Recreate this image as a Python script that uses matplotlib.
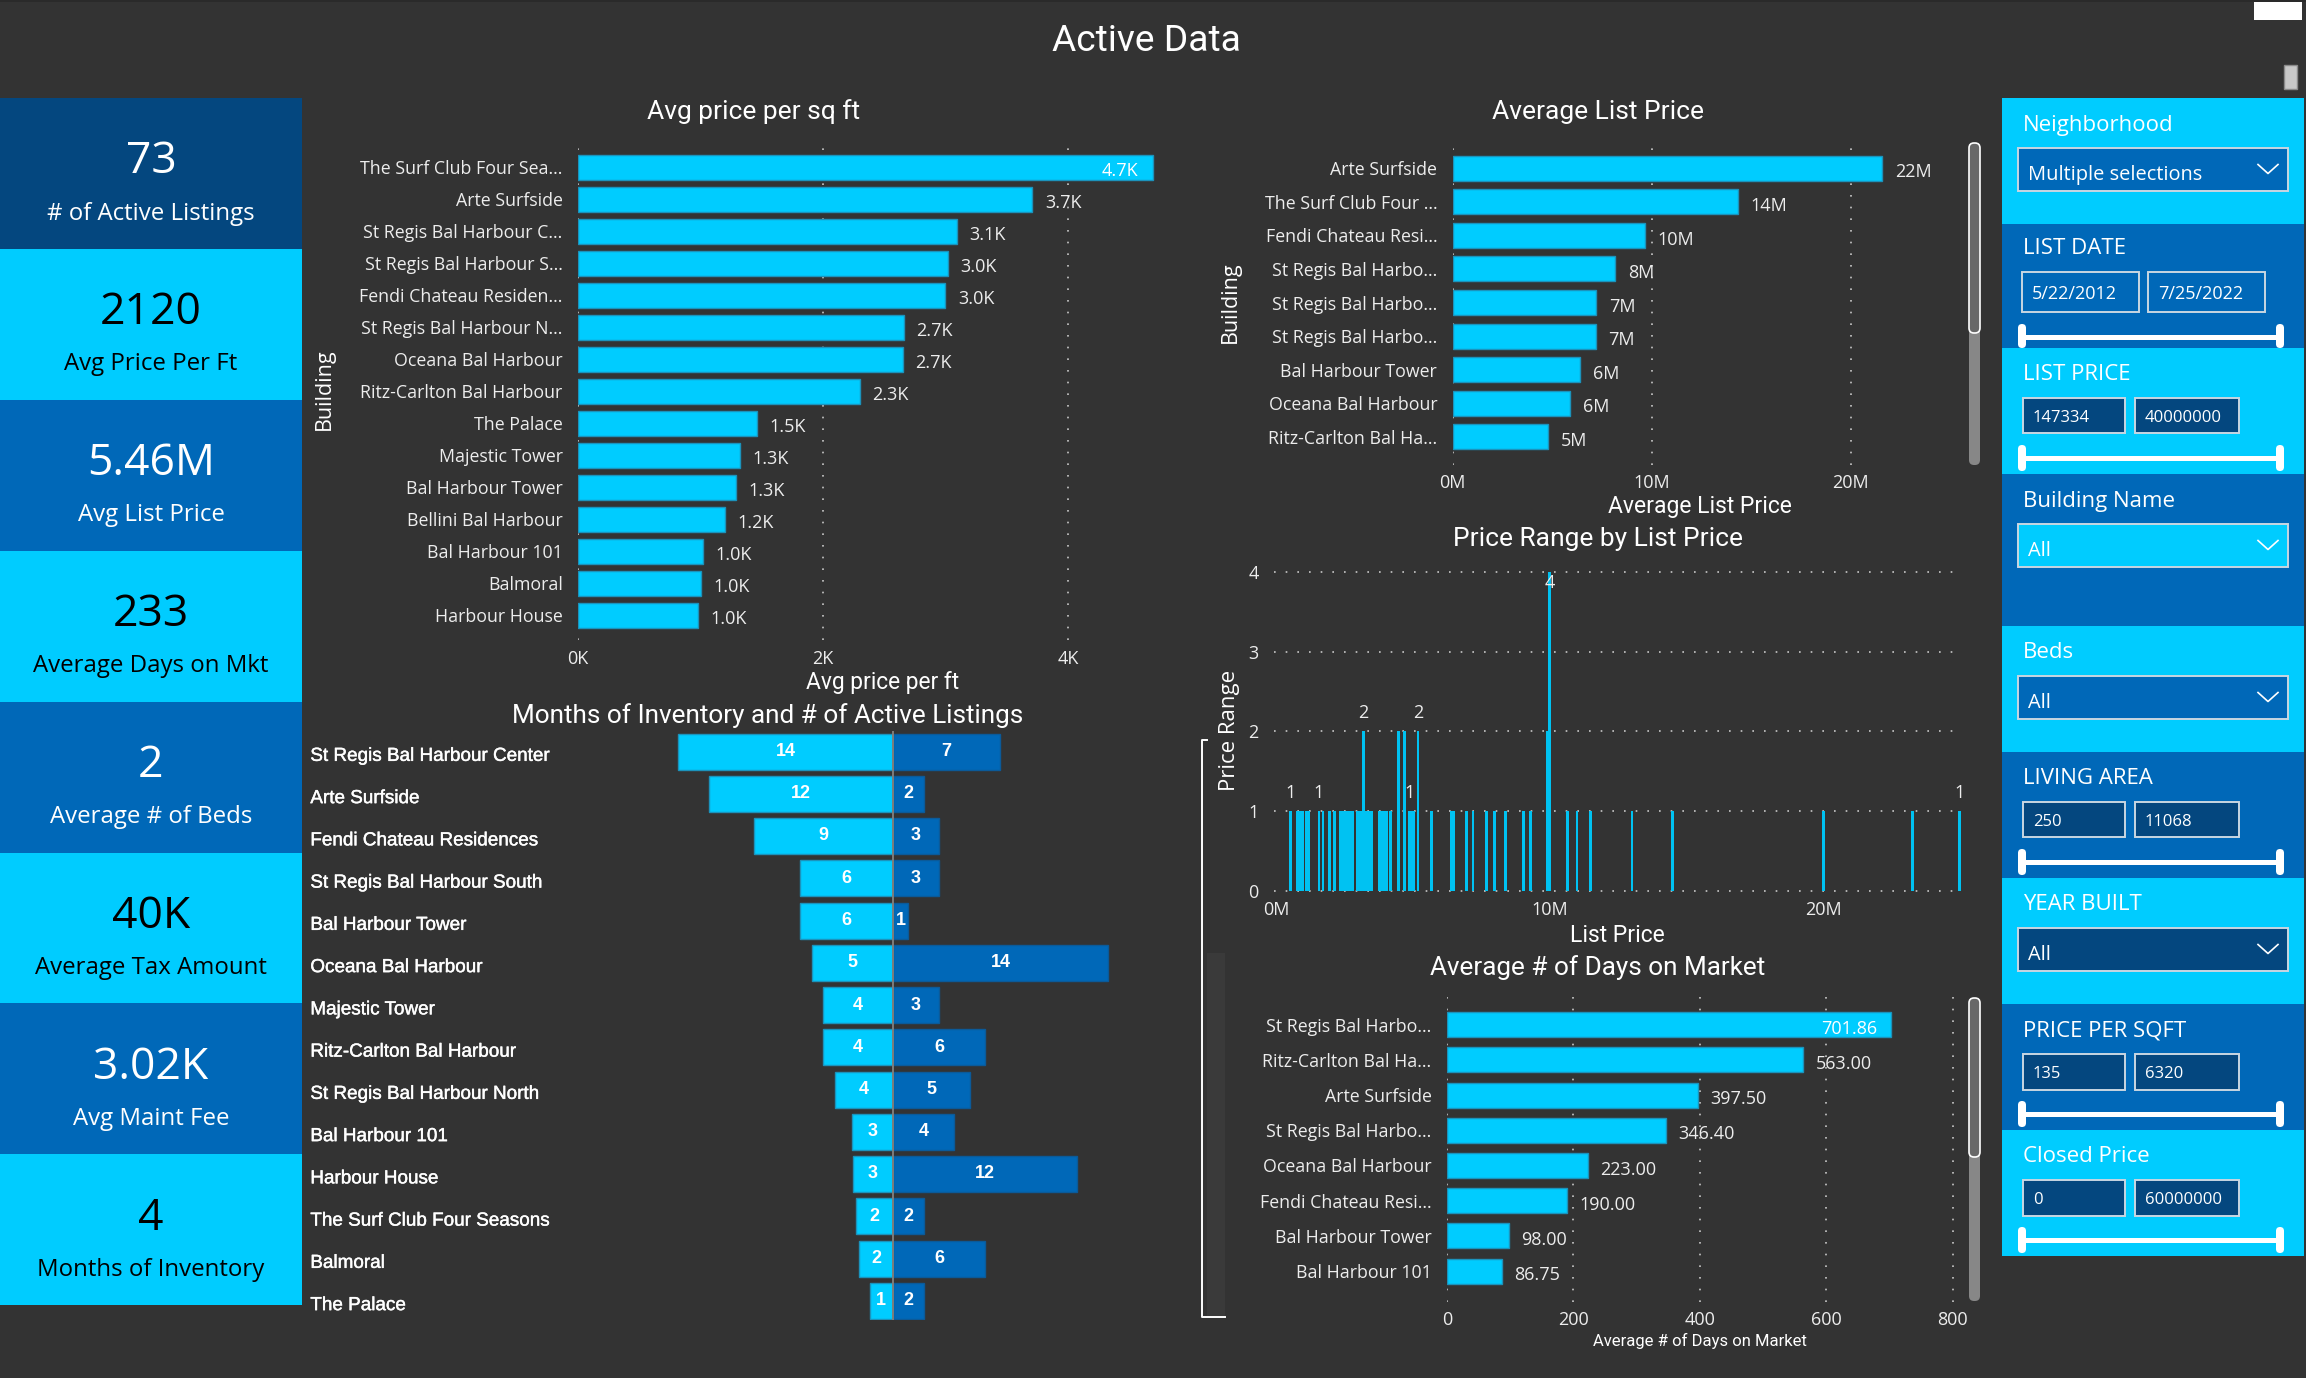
import matplotlib
matplotlib.use('Agg')
import matplotlib.pyplot as plt
import matplotlib.patheffects as pe
from matplotlib.patches import Rectangle, FancyBboxPatch

W, H = 2306, 1378
BG = '#333333'
CYAN = '#00CCFF'
BLUE = '#0068B8'
NAVY = '#04477F'
EDGE = '#1B93BC'
GRID = '#C8C8C8'
UI_FONT = 'Open Sans'
TITLE_FONT = 'Roboto'

# kpi cards
kpi_values = ['73', '2120', '5.46M', '233', '2', '40K', '3.02K', '4']
kpi_labels = ['# of Active Listings', 'Avg Price Per Ft', 'Avg List Price', 'Average Days on Mkt',
              'Average # of Beds', 'Average Tax Amount', 'Avg Maint Fee', 'Months of Inventory']

# avg price per sq ft
ppsf_names = ['The Surf Club Four Sea...', 'Arte Surfside', 'St Regis Bal Harbour C...', 'St Regis Bal Harbour S...',
              'Fendi Chateau Residen...', 'St Regis Bal Harbour N...', 'Oceana Bal Harbour', 'Ritz-Carlton Bal Harbour',
              'The Palace', 'Majestic Tower', 'Bal Harbour Tower', 'Bellini Bal Harbour', 'Bal Harbour 101',
              'Balmoral', 'Harbour House']
ppsf_values = [4.69, 3.71, 3.09, 3.02, 3.00, 2.66, 2.65, 2.30, 1.46, 1.32, 1.29, 1.20, 1.02, 1.00, 0.98]
ppsf_labels = ['4.7K', '3.7K', '3.1K', '3.0K', '3.0K', '2.7K', '2.7K', '2.3K', '1.5K', '1.3K', '1.3K', '1.2K',
               '1.0K', '1.0K', '1.0K']

# average list price
list_names = ['Arte Surfside', 'The Surf Club Four ...', 'Fendi Chateau Resi...', 'St Regis Bal Harbo...',
              'St Regis Bal Harbo...', 'St Regis Bal Harbo...', 'Bal Harbour Tower', 'Oceana Bal Harbour',
              'Ritz-Carlton Bal Ha...']
list_values = [21.6, 14.34, 9.69, 8.18, 7.23, 7.2, 6.43, 5.92, 4.82]
list_labels = ['22M', '14M', '10M', '8M', '7M', '7M', '6M', '6M', '5M']

# days on market
days_names = ['St Regis Bal Harbo...', 'Ritz-Carlton Bal Ha...', 'Arte Surfside', 'St Regis Bal Harbo...',
              'Oceana Bal Harbour', 'Fendi Chateau Resi...', 'Bal Harbour Tower', 'Bal Harbour 101']
days_values = [701.86, 563.00, 397.50, 346.40, 223.00, 190.00, 98.00, 86.75]

# months of inventory / active listings
inv_names = ['St Regis Bal Harbour Center', 'Arte Surfside', 'Fendi Chateau Residences', 'St Regis Bal Harbour South',
             'Bal Harbour Tower', 'Oceana Bal Harbour', 'Majestic Tower', 'Ritz-Carlton Bal Harbour',
             'St Regis Bal Harbour North', 'Bal Harbour 101', 'Harbour House', 'The Surf Club Four Seasons',
             'Balmoral', 'The Palace']
inv_months = [14.0, 12.0, 9.05, 6.05, 6.05, 5.3, 4.55, 4.55, 3.8, 2.7, 2.6, 2.4, 2.2, 1.53]
inv_month_labels = ['14', '12', '9', '6', '6', '5', '4', '4', '4', '3', '3', '2', '2', '1']
inv_listings = [7, 2, 3, 3, 1, 14, 3, 6, 5, 4, 12, 2, 6, 2]

# price range by list price
range_prices = [0.50, 0.75, 0.80, 0.86, 0.91, 0.97, 1.08, 1.16, 1.55, 1.70, 1.94, 2.11,
                2.33, 2.39, 2.44, 2.50, 2.56, 2.61, 2.67, 2.72, 2.78, 2.95, 3.02, 3.08, 3.17,
                3.25, 3.30, 3.36, 3.43, 3.49, 3.77, 3.82, 3.88, 3.96, 4.01, 4.16, 4.46, 4.68,
                4.85, 4.93, 5.00, 5.17, 5.67, 6.40, 6.47, 6.96, 7.18, 7.67, 7.97, 8.38, 9.03,
                9.29, 9.89, 9.98, 10.65, 10.99, 11.47, 13.0, 14.48, 20.0, 23.25, 24.96]
range_counts = [1, 1, 1, 1, 1, 1, 1, 1, 1, 1, 1, 1,
                1, 1, 1, 1, 1, 1, 1, 1, 1, 1, 1, 1, 2,
                1, 1, 1, 1, 1, 1, 1, 1, 1, 1, 1, 2, 2,
                1, 1, 1, 2, 1, 1, 1, 1, 1, 1, 1, 1, 1,
                1, 2, 4, 1, 1, 1, 1, 1, 1, 1, 1]
range_labelled = [0.50, 1.55, 3.17, 4.85, 5.17, 9.98, 24.96]

plt.rcParams['font.family'] = UI_FONT
fig = plt.figure(figsize=(W / 100, H / 100), dpi=100, facecolor=BG)


def ax_px(left, top, right, bottom):
    ax = fig.add_axes([left / W, 1 - bottom / H, (right - left) / W, (bottom - top) / H])
    ax.set_facecolor('none')
    return ax


ui = ax_px(0, 0, W, H)
ui.set_xlim(0, W)
ui.set_ylim(H, 0)
ui.axis('off')


def txt(x, y, s, size, color='white', ha='center', font=UI_FONT, dy=3, **kw):
    ui.text(x, y + dy, s, fontsize=size, color=color, ha=ha, va='center', family=font, **kw)


def rect(x0, y0, x1, y1, color, edge='none', lw=0, z=1):
    ui.add_patch(Rectangle((x0, y0), x1 - x0, y1 - y0, facecolor=color, edgecolor=edge, linewidth=lw, zorder=z))


def hbar_chart(left, right, top, bottom, first, pitch, px_per_unit, names, values, labels, ticks, tick_labels, pad,
               first_inside=True):
    ax = ax_px(left, top, right, bottom)
    for i, v in enumerate(values):
        ax.barh(i, v, height=25 / pitch, color=CYAN, edgecolor=EDGE, linewidth=1, zorder=3)
        if i == 0 and first_inside:
            ax.annotate(labels[i], (v, i), xytext=(-10, -3), textcoords='offset points', ha='right', va='center',
                        color='white', fontsize=13, zorder=4)
        else:
            ax.annotate(labels[i], (v, i), xytext=(9, -3), textcoords='offset points', ha='left', va='center',
                        color='#EDEDED', fontsize=13, zorder=4)
    ax.set_xlim(0, (right - left) / px_per_unit)
    ax.set_ylim((bottom - first) / pitch, (top - first) / pitch)
    ax.set_yticks(range(len(names)), names)
    ax.set_xticks(ticks, tick_labels)
    ax.tick_params(axis='y', length=0, pad=11, labelsize=12.8, labelcolor='#EDEDED')
    ax.tick_params(axis='x', length=0, pad=pad, labelsize=13, labelcolor='#EDEDED')
    ax.grid(axis='x', color=GRID, linewidth=1.2, linestyle=(0, (1, 6)), zorder=0)
    ax.set_axisbelow(True)
    for s in ax.spines.values():
        s.set_visible(False)
    return ax


# page title
txt(1146, 38, 'Active Data', 26.7, font=TITLE_FONT)
rect(0, 0, W, 2, '#2A2A2A')
rect(2254, 2, 2302, 20, 'white')
rect(2284, 65, 2297, 89, '#C8C8C8', edge='#8A8A8A', lw=1)

# kpi column
card_colors = [NAVY, CYAN, BLUE, CYAN, BLUE, CYAN, BLUE, CYAN]
for i, (val, lab) in enumerate(zip(kpi_values, kpi_labels)):
    y0 = 98 + i * 150.9
    rect(0, y0, 302, y0 + 150.9, card_colors[i])
    c = 'black' if card_colors[i] == CYAN else 'white'
    txt(151, y0 + 61, val, 32, color=c)
    txt(151, y0 + 112.5, lab, 17.3, color=c)

# avg price per sq ft
hbar_chart(578, 1175, 148, 640, 167, 32, 122.5, ppsf_names, ppsf_values, ppsf_labels,
           [0, 2, 4], ['0K', '2K', '4K'], 7.5)
txt(754, 109, 'Avg price per sq ft', 19, font=TITLE_FONT)
txt(883, 680, 'Avg price per ft', 16.4, font=TITLE_FONT)
txt(324, 389, 'Building', 15.5, rotation=90, dy=0)

# average list price
hbar_chart(1452.5, 1960, 142, 465, 168.3, 33.55, 19.9, list_names, list_values, list_labels,
           [0, 10, 20], ['0M', '10M', '20M'], 6.5, first_inside=False)
txt(1598, 109, 'Average List Price', 19, font=TITLE_FONT)
txt(1700, 504, 'Average List Price', 16.5, font=TITLE_FONT)
txt(1230, 302, 'Building', 15.5, rotation=90, dy=0)

# days on market
days_labels = ['%.2f' % v for v in days_values]
hbar_chart(1446.8, 1960, 997, 1301.7, 1024.7, 35.2, 0.6325, days_names, days_values, days_labels,
           [0, 200, 400, 600, 800], ['0', '200', '400', '600', '800'], 7)
txt(1598, 965, 'Average # of Days on Market', 18.8, font=TITLE_FONT)
txt(1700, 1338, 'Average # of Days on Market', 12, font=TITLE_FONT)

# scrollbars
for top, thumb, bottom in [(142, 334, 465), (997, 1158, 1301)]:
    ui.add_patch(FancyBboxPatch((1969, top + 6), 11, bottom - top - 6, boxstyle='round,pad=0,rounding_size=5',
                                facecolor='#878787', edgecolor='none', mutation_aspect=1, zorder=2))
    ui.add_patch(FancyBboxPatch((1969, top + 1), 11, thumb - top - 2, boxstyle='round,pad=0,rounding_size=5',
                                facecolor='#686868', edgecolor='white', linewidth=1.2, zorder=3))

# price range
ax = ax_px(1274, 571.7, 1962, 891)
ax.bar(range_prices, range_counts, width=0.1, color='#00C2F2', zorder=3)
for p, n in zip(range_prices, range_counts):
    if p in range_labelled:
        off = -8 if n == 4 else 13
        ax.annotate(str(n), (p, n), xytext=(0, off), textcoords='offset points', ha='center', va='center',
                    color='#EDEDED', fontsize=13, zorder=4)
ax.set_xlim(-2.5 / 27.35, 685.5 / 27.35)
ax.set_ylim(0, 4)
ax.set_yticks([0, 1, 2, 3, 4])
ax.set_xticks([0, 10, 20], ['0M', '10M', '20M'])
ax.tick_params(axis='y', length=0, pad=11, labelsize=13, labelcolor='#EDEDED')
ax.tick_params(axis='x', length=0, pad=7, labelsize=13, labelcolor='#EDEDED')
ax.grid(axis='y', color=GRID, linewidth=1.2, linestyle=(0, (1, 6)), zorder=0, clip_on=False)
for s in ax.spines.values():
    s.set_visible(False)
txt(1598, 536, 'Price Range by List Price', 19, font=TITLE_FONT)
txt(1617, 932, 'List Price', 16.5, font=TITLE_FONT)
txt(1230, 730, 'Price Range', 16, rotation=90, dy=0)

# bracket left of the lower charts
rect(1207, 953, 1225, 1317, '#3A3A3A')
ui.plot([1207, 1202, 1202, 1225], [740, 740, 1317, 1317], color='white', linewidth=1.4, zorder=2)

# months of inventory and listings
ax = ax_px(302, 731, 1122, 1320)
ppu = 15.34
row_first, row_pitch = 751.5, 42.25
rows = range(len(inv_names))
ax.barh(rows, [-m for m in inv_months], height=36 / row_pitch, color=CYAN, edgecolor=EDGE, linewidth=1, zorder=2)
ax.barh(rows, inv_listings, height=36 / row_pitch, color=BLUE, edgecolor='#0B5A99', linewidth=1, zorder=2)
ax.axvline(0, color='#7D7D7D', linewidth=1.4, zorder=3)
for i in rows:
    ax.text(-inv_months[i] / 2, i, inv_month_labels[i], color='white', fontsize=13, fontweight='bold',
            ha='center', va='center', family='Liberation Sans', zorder=4)
    ax.text(inv_listings[i] / 2, i, str(inv_listings[i]), color='white', fontsize=13, fontweight='bold',
            ha='center', va='center', family='Liberation Sans', zorder=4)
    ax.annotate(inv_names[i], xy=(0, i), xycoords=ax.get_yaxis_transform(), xytext=(6, -3.5),
                textcoords='offset points', color='white', fontsize=13.6, ha='left', va='center',
                family='Liberation Sans', path_effects=[pe.withStroke(linewidth=0.3, foreground='white')])
ax.set_xlim(-(893 - 302) / ppu, (1122 - 893) / ppu)
ax.set_ylim((1320 - row_first) / row_pitch, (731 - row_first) / row_pitch)
ax.axis('off')
txt(768, 713, 'Months of Inventory and # of Active Listings', 18.8, font=TITLE_FONT)


# slicers
def dropdown(y0, y1, value, fill):
    rect(2018, y0, 2288, y1, fill, edge='#C9D6E2', lw=1.4, z=2)
    cy = (y0 + y1) / 2
    txt(2028, cy + 2.5, value, 14.4, ha='left', zorder=3)
    ui.plot([2258, 2268, 2278], [cy - 5, cy + 4, cy - 5], color='white', linewidth=1.2, zorder=3)


def inputs(y0, y1, low, high, fill, x=(2023, 2125, 2135, 2239), size=12):
    rect(x[0], y0, x[1], y1, fill, edge='#C9D6E2', lw=1.4, z=2)
    rect(x[2], y0, x[3], y1, fill, edge='#C9D6E2', lw=1.4, z=2)
    cy = (y0 + y1) / 2
    txt(x[0] + 10, cy - 1, low, size, ha='left', zorder=3)
    txt(x[2] + 10, cy - 1, high, size, ha='left', zorder=3)


def slider(y, h0, h1):
    ui.plot([2022, 2280], [y, y], color='white', linewidth=3.6, zorder=3, solid_capstyle='butt')
    for x in (2018, 2276):
        ui.add_patch(FancyBboxPatch((x, h0), 8, h1 - h0, boxstyle='round,pad=0,rounding_size=4',
                                    facecolor='white', edgecolor='none', zorder=3))


blocks = [(98, 224, CYAN, 'Neighborhood', 25), (224, 348, BLUE, 'LIST DATE', 22), (348, 474, CYAN, 'LIST PRICE', 24),
          (474, 626, BLUE, 'Building Name', 25), (626, 752, CYAN, 'Beds', 24), (752, 878, BLUE, 'LIVING AREA', 24),
          (878, 1004, CYAN, 'YEAR BUILT', 24), (1004, 1130, BLUE, 'PRICE PER SQFT', 24),
          (1130, 1256, CYAN, 'Closed Price', 24)]
for y0, y1, c, name, off in blocks:
    rect(2002, y0, 2304, y1, c)
    txt(2023, y0 + off, name, 16, ha='left', zorder=3)

dropdown(148, 191, 'Multiple selections', BLUE)
inputs(272, 312, '5/22/2012', '7/25/2022', BLUE, x=(2022, 2139, 2148, 2265), size=13)
slider(337, 324, 348)
inputs(398, 433, '147334', '40000000', NAVY)
slider(458, 445, 471)
dropdown(524, 567, 'All', CYAN)
dropdown(676, 719, 'All', BLUE)
inputs(802, 837, '250', '11068', NAVY)
slider(862, 849, 875)
dropdown(928, 971, 'All', NAVY)
inputs(1054, 1090, '135', '6320', NAVY)
slider(1114, 1101, 1127)
inputs(1180, 1216, '0', '60000000', NAVY)
slider(1240, 1227, 1253)

fig.savefig('out.png', dpi=100, facecolor=BG)
